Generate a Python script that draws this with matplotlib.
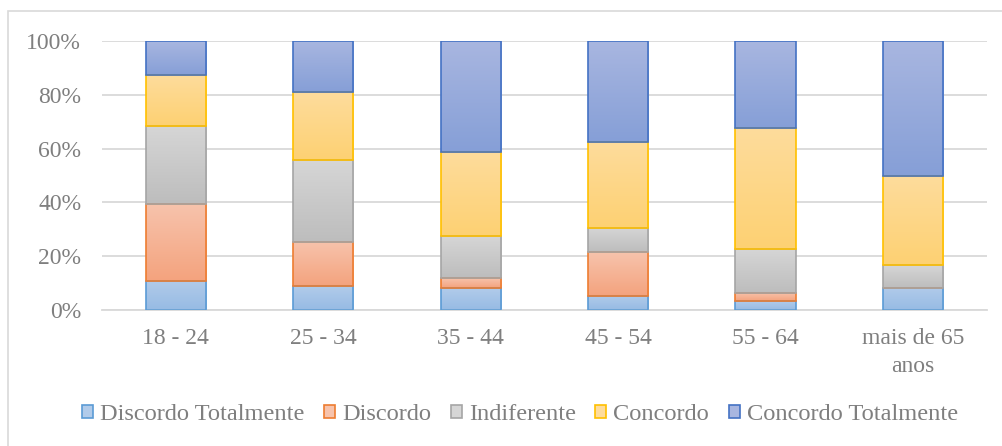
import numpy as np
import matplotlib
matplotlib.use("Agg")
import matplotlib.pyplot as plt
from matplotlib.colors import LinearSegmentedColormap
from matplotlib.patches import Rectangle
from matplotlib.ticker import PercentFormatter

# faixas etárias e respostas (% de cada faixa)
faixas = ["18 - 24", "25 - 34", "35 - 44", "45 - 54", "55 - 64", "mais de 65\nanos"]
discordo_totalmente = [10.9, 8.9, 8.1, 5.3, 3.3, 8.3]
discordo = [28.5, 16.4, 3.7, 16.1, 3.0, 0.0]
indiferente = [29.0, 30.5, 15.8, 9.1, 16.4, 8.3]
concordo = [19.0, 25.1, 31.3, 32.0, 45.0, 33.3]
concordo_totalmente = [12.6, 19.1, 41.1, 37.5, 32.3, 50.1]

series = [
    ("Discordo Totalmente", discordo_totalmente),
    ("Discordo", discordo),
    ("Indiferente", indiferente),
    ("Concordo", concordo),
    ("Concordo Totalmente", concordo_totalmente),
]
# (borda, topo do gradiente, base do gradiente)
cores = [
    ("#5B9BD5", "#B1CBEA", "#97BBE4"),
    ("#ED7D31", "#F7C3AC", "#F4A37E"),
    ("#A5A5A5", "#D6D6D6", "#BDBDBD"),
    ("#FFC000", "#FEDC9C", "#FDD173"),
    ("#4472C4", "#A8B6E0", "#869FD7"),
]

plt.rcParams["font.family"] = ["Liberation Serif", "DejaVu Serif"]
texto = "#7F7F7F"
grade = "#D9D9D9"

fig = plt.figure(figsize=(10.02, 4.46), dpi=100)
ax = fig.add_axes([0.1018, 0.3049, 0.8832, 0.6031])

# moldura do gráfico
fig.patches.append(Rectangle((8 / 1002, -0.2), 1.2, 1.2 - 11 / 446,
                             transform=fig.transFigure, fill=False,
                             edgecolor=grade, linewidth=1.2))

x = np.arange(len(faixas))
base = np.zeros(len(faixas))
handles = []
for (nome, vals), (borda, c_top, c_bot) in zip(series, cores):
    vals = np.array(vals)
    bars = ax.bar(x, vals, width=0.41, bottom=base, facecolor="none",
                  edgecolor=borda, linewidth=1.2, zorder=3, label=nome)
    cmap = LinearSegmentedColormap.from_list(nome, [c_bot, c_top])
    for b in bars:
        if b.get_height() <= 0:
            continue
        x0, y0 = b.get_x(), b.get_y()
        im = ax.imshow(np.linspace(0, 1, 64).reshape(-1, 1), cmap=cmap,
                       origin="lower", aspect="auto", zorder=2,
                       extent=[x0, x0 + b.get_width(), y0, y0 + b.get_height()])
        im.set_clip_path(b)
    base += vals
    handles.append(Rectangle((0, 0), 1, 1, facecolor=c_top, edgecolor=borda,
                             linewidth=1.2))

ax.set_xlim(-0.5, len(faixas) - 0.5)
ax.set_ylim(0, 100)
ax.set_yticks(np.arange(0, 101, 20))
ax.yaxis.set_major_formatter(PercentFormatter(decimals=0))
ax.set_xticks(x)
ax.set_xticklabels(faixas, linespacing=1.45)
ax.grid(axis="y", color=grade, linewidth=1.3, zorder=0)
ax.set_axisbelow(True)
for s in ["top", "right", "left"]:
    ax.spines[s].set_visible(False)
ax.spines["bottom"].set_color(grade)
ax.spines["bottom"].set_linewidth(1.3)
ax.tick_params(axis="both", length=0, labelsize=17, labelcolor=texto)
ax.tick_params(axis="y", pad=15)
ax.tick_params(axis="x", pad=13)

leg = fig.legend(handles, [n for n, _ in series], loc="center",
                 bbox_to_anchor=(0.519, 1 - 415 / 446), ncol=5, frameon=False,
                 fontsize=17.6, handlelength=0.45, handleheight=0.45,
                 handletextpad=0.29, columnspacing=0.8, borderaxespad=0)
for t in leg.get_texts():
    t.set_color(texto)

fig.savefig("out.png", dpi=100)
